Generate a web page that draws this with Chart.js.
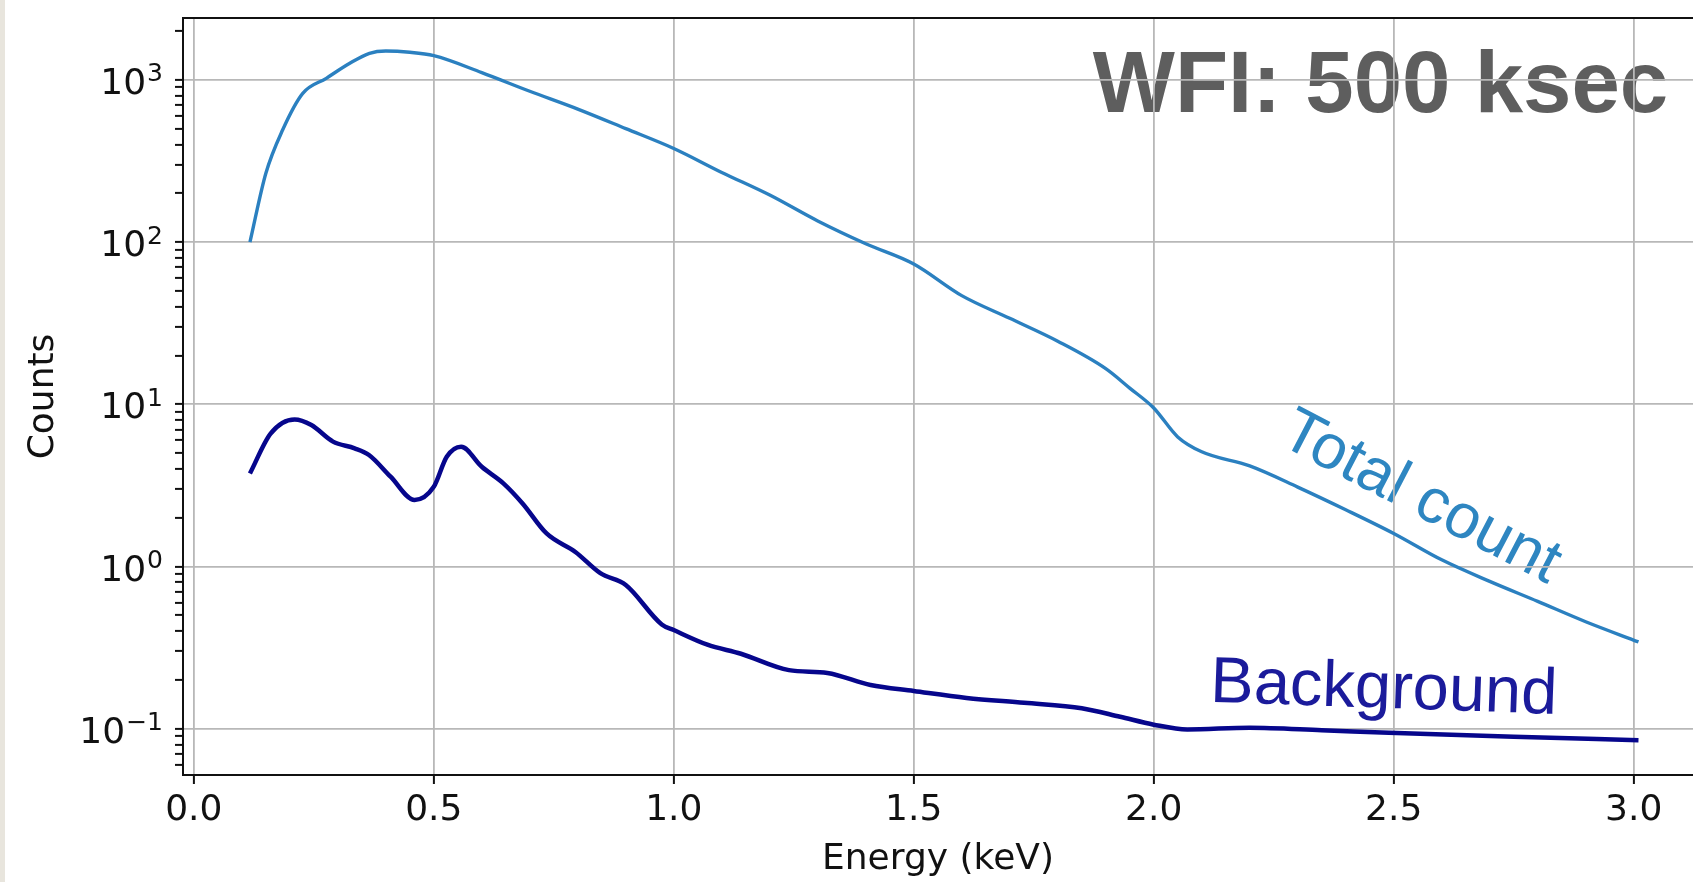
<!DOCTYPE html>
<html>
<head>
<meta charset="utf-8">
<script src="https://cdn.jsdelivr.net/npm/chart.js@4.4.1/dist/chart.umd.min.js"></script>
<style>
  html, body { margin: 0; padding: 0; background: #fff; overflow: hidden; }
  #wrap { position: relative; width: 1693px; height: 882px; }
  #edge { position: absolute; left: 0; top: 0; width: 5px; height: 882px; background: #e8e5dd; }
</style>
</head>
<body>
<div id="wrap">
  <canvas id="spectrum" width="1693" height="882"></canvas>
  <div id="edge"></div>
</div>
<script>
// values (energy in keV, counts)
const totalEnergy = [0.117, 0.15, 0.185, 0.227, 0.276, 0.325, 0.366, 0.40, 0.45, 0.50, 0.60, 0.70, 0.80, 0.90, 1.00, 1.10, 1.20, 1.30, 1.40, 1.50, 1.60, 1.70, 1.80, 1.90, 1.95, 2.00, 2.05, 2.10, 2.20, 2.30, 2.40, 2.50, 2.60, 2.70, 2.80, 2.90, 3.01];
const totalCounts = [100, 265, 491, 826, 1023, 1266, 1459, 1507, 1480, 1410, 1109, 851, 661, 501, 378, 269, 195, 135, 97.7, 73.3, 46.8, 33.9, 24.5, 16.6, 12.6, 9.5, 6.3, 5.1, 4.17, 3.09, 2.24, 1.60, 1.10, 0.81, 0.61, 0.457, 0.343];

const bkgEnergy = [0.117, 0.16, 0.21, 0.245, 0.29, 0.335, 0.365, 0.41, 0.46, 0.50, 0.527, 0.557, 0.60, 0.645, 0.685, 0.735, 0.795, 0.847, 0.90, 0.975, 1.00, 1.07, 1.14, 1.24, 1.32, 1.41, 1.50, 1.61, 1.73, 1.85, 1.93, 2.00, 2.07, 2.20, 2.35, 2.49, 2.75, 3.01];
const bkgCounts = [3.75, 6.6, 8.07, 7.45, 5.89, 5.36, 4.87, 3.58, 2.57, 3.1, 4.75, 5.48, 4.12, 3.26, 2.45, 1.60, 1.23, 0.91, 0.77, 0.44, 0.406, 0.33, 0.29, 0.23, 0.221, 0.186, 0.171, 0.155, 0.1445, 0.134, 0.1186, 0.106, 0.099, 0.1015, 0.098, 0.0944, 0.0893, 0.0851];

const xTicks = [0, 0.5, 1, 1.5, 2, 2.5, 3];
const xTickLabels = ['0.0', '0.5', '1.0', '1.5', '2.0', '2.5', '3.0'];
const yMajor = [0.1, 1, 10, 100, 1000];
const yMajorExp = ['−1', '0', '1', '2', '3'];   // shown as 10^exp
const yMinor = [0.06, 0.07, 0.08, 0.09,
  0.2, 0.3, 0.4, 0.5, 0.6, 0.7, 0.8, 0.9,
  2, 3, 4, 5, 6, 7, 8, 9,
  20, 30, 40, 50, 60, 70, 80, 90,
  200, 300, 400, 500, 600, 700, 800, 900, 2000];

const TICK_FONT = { family: 'DejaVu Sans', size: 36 };
const GRID = '#b8b8b8';
const INK = '#111';

const notesPlugin = {
  id: 'notes',
  // text labels sit under the grid, like in the figure
  beforeDraw(chart) {
    const { ctx, scales: { x, y } } = chart;
    const notes = [
      { text: 'WFI: 500 ksec', x: 1.873, y: 637, angle: 0, font: 'bold 87px "Liberation Sans"', color: '#5e5e5e' },
      { text: 'Total count', x: 2.258, y: 5.75, angle: 27.5, font: '63px "Liberation Sans"', color: '#2e86c1' },
      { text: 'Background', x: 2.117, y: 0.1467, angle: 2, font: '65px "Liberation Sans"', color: '#1b1b9b' }
    ];
    ctx.save();
    notes.forEach(n => {
      ctx.save();
      ctx.translate(x.getPixelForValue(n.x), y.getPixelForValue(n.y));
      ctx.rotate(n.angle * Math.PI / 180);
      ctx.font = n.font;
      ctx.fillStyle = n.color;
      ctx.textBaseline = 'alphabetic';
      ctx.fillText(n.text, 0, 0);
      ctx.restore();
    });
    ctx.restore();
  },
  afterDraw(chart) {
    const { ctx, chartArea: a, scales: { y } } = chart;
    ctx.save();
    // top spine
    ctx.strokeStyle = INK;
    ctx.lineWidth = 2;
    ctx.beginPath();
    ctx.moveTo(a.left - 1, a.top);
    ctx.lineTo(a.right, a.top);
    ctx.stroke();
    // y labels as 10 with a raised exponent
    ctx.fillStyle = INK;
    ctx.textBaseline = 'alphabetic';
    ctx.textAlign = 'left';
    yMajor.forEach((v, i) => {
      const py = y.getPixelForValue(v) + 14;
      ctx.font = '25px "DejaVu Sans"';
      const ew = ctx.measureText(yMajorExp[i]).width;
      ctx.font = '36px "DejaVu Sans"';
      const bw = ctx.measureText('10').width;
      const right = a.left - 20;
      ctx.fillText('10', right - ew - bw - 1, py);
      ctx.font = '25px "DejaVu Sans"';
      ctx.fillText(yMajorExp[i], right - ew, py - 12.6);
    });
    ctx.restore();
  }
};

new Chart(document.getElementById('spectrum'), {
  type: 'line',
  data: {
    datasets: [
      {
        label: 'Total count',
        data: totalEnergy.map((e, i) => ({ x: e, y: totalCounts[i] })),
        borderColor: '#2b80c0', borderWidth: 3.4, pointRadius: 0,
        cubicInterpolationMode: 'monotone'
      },
      {
        label: 'Background',
        data: bkgEnergy.map((e, i) => ({ x: e, y: bkgCounts[i] })),
        borderColor: '#06068c', borderWidth: 4.5, pointRadius: 0,
        cubicInterpolationMode: 'monotone'
      }
    ]
  },
  options: {
    responsive: false, animation: false, devicePixelRatio: 1,
    layout: { padding: { top: 18, right: 0, bottom: 0, left: 0 } },
    plugins: { legend: { display: false }, tooltip: { enabled: false } },
    scales: {
      x: {
        type: 'linear', min: -0.0225, max: 3.1236,
        afterBuildTicks: s => { s.ticks = xTicks.map(v => ({ value: v })); },
        afterFit: s => { s.height = 107; s.paddingLeft = 0; s.paddingRight = 0; },
        ticks: { autoSkip: false, maxRotation: 0, padding: 5, color: INK, font: TICK_FONT,
                 callback: (v, i) => xTickLabels[i] },
        grid: { color: GRID, lineWidth: 1.8, tickColor: INK, tickLength: 9, tickWidth: 2 },
        border: { color: INK, width: 2 },
        title: { display: true, text: 'Energy (keV)', color: INK, font: TICK_FONT, padding: { top: 0, bottom: 1 } }
      },
      y: {
        type: 'logarithmic', min: 0.05189, max: 2408, bounds: 'data',
        afterBuildTicks: s => { s.ticks = yMinor.concat(yMajor).sort((a, b) => a - b).map(v => ({ value: v })); },
        afterFit: s => { s.width = 183; s.paddingTop = 0; s.paddingBottom = 0; },
        ticks: { autoSkip: false, padding: 13, color: INK, font: TICK_FONT, callback: () => '' },
        grid: {
          color: c => (c.tick && yMajor.includes(c.tick.value)) ? GRID : 'rgba(0,0,0,0)',
          lineWidth: 1.8, tickColor: INK, tickLength: 8, tickWidth: 2
        },
        border: { color: INK, width: 2 },
        title: { display: true, text: 'Counts', color: INK, font: TICK_FONT, padding: { top: 22, bottom: 0 } }
      }
    }
  },
  plugins: [notesPlugin]
});
</script>
</body>
</html>
